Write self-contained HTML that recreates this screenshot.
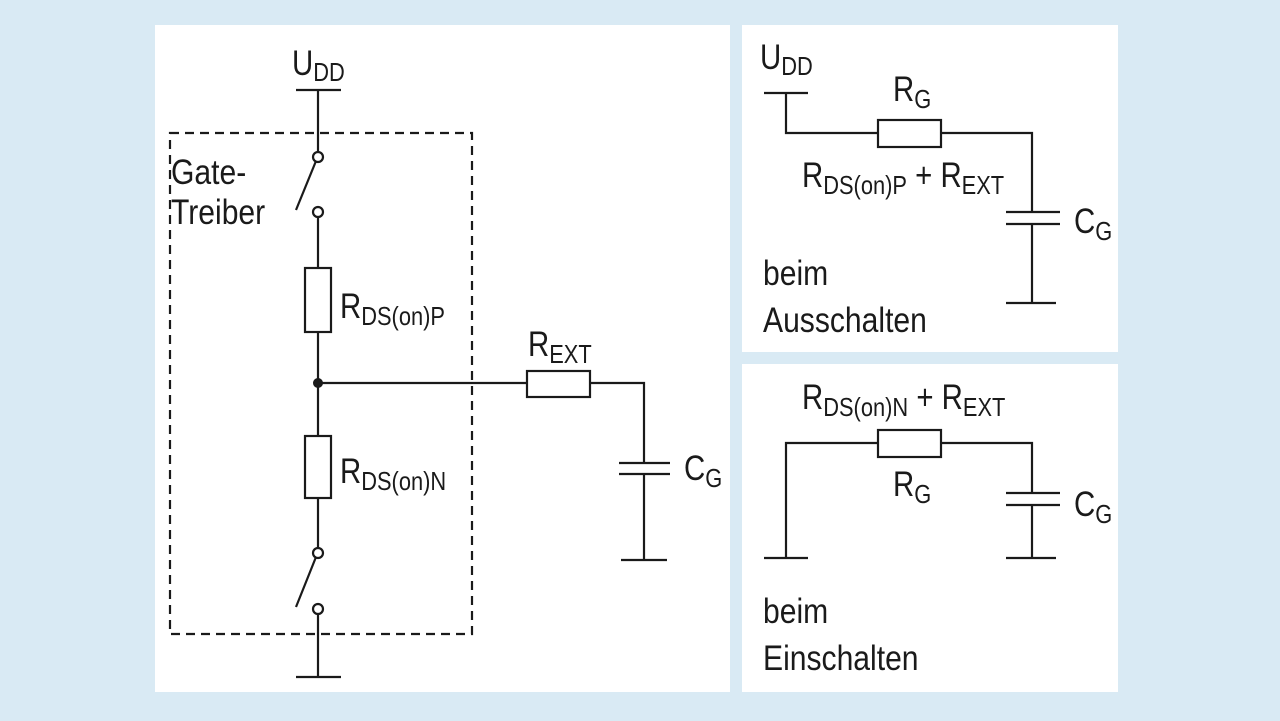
<!DOCTYPE html>
<html><head><style>
body{margin:0;width:1280px;height:721px;background:#d9eaf4;overflow:hidden}
svg{position:absolute;left:0;top:0}
text{font-family:"Liberation Sans",sans-serif;font-size:35px;fill:#1a1a1a}
.s{font-size:26px}
</style></head><body>
<svg width="1280" height="721" viewBox="0 0 1280 721">
<rect x="155" y="25" width="575" height="667" fill="#fff"/>
<rect x="742" y="25" width="376" height="327" fill="#fff"/>
<rect x="742" y="364" width="376" height="328" fill="#fff"/>
<g stroke="#1a1a1a" stroke-width="2.2" fill="none">
<rect x="170" y="133" width="302" height="501" stroke-dasharray="9,6"/>
<line x1="296" y1="90" x2="341" y2="90"/>
<line x1="318" y1="90" x2="318" y2="152"/>
<circle cx="318" cy="157" r="5" fill="#fff"/>
<line x1="296" y1="210" x2="316" y2="161"/>
<circle cx="318" cy="212" r="5" fill="#fff"/>
<line x1="318" y1="217" x2="318" y2="268"/>
<rect x="305" y="268" width="26" height="64"/>
<line x1="318" y1="332" x2="318" y2="436"/>
<rect x="305" y="436" width="26" height="62"/>
<line x1="318" y1="498" x2="318" y2="548"/>
<circle cx="318" cy="553" r="5" fill="#fff"/>
<line x1="296" y1="607" x2="316" y2="557"/>
<circle cx="318" cy="609" r="5" fill="#fff"/>
<line x1="318" y1="614" x2="318" y2="677"/>
<line x1="296" y1="677" x2="341" y2="677"/>
<line x1="318" y1="383" x2="527" y2="383"/>
<rect x="527" y="371" width="63" height="26"/>
<polyline points="590,383 644,383 644,463"/>
<line x1="619" y1="463" x2="670" y2="463"/>
<line x1="619" y1="474" x2="670" y2="474"/>
<line x1="644" y1="474" x2="644" y2="560"/>
<line x1="621" y1="560" x2="667" y2="560"/>

<line x1="764" y1="93" x2="808" y2="93"/>
<polyline points="786,93 786,133 878,133"/>
<rect x="878" y="120" width="63" height="27"/>
<polyline points="941,133 1032,133 1032,212"/>
<line x1="1006" y1="212" x2="1060" y2="212"/>
<line x1="1006" y1="224" x2="1060" y2="224"/>
<line x1="1032" y1="224" x2="1032" y2="303"/>
<line x1="1006" y1="303" x2="1056" y2="303"/>

<line x1="764" y1="558" x2="808" y2="558"/>
<polyline points="786,558 786,443 878,443"/>
<rect x="878" y="430" width="63" height="27"/>
<polyline points="941,443 1032,443 1032,493"/>
<line x1="1006" y1="493" x2="1060" y2="493"/>
<line x1="1006" y1="505" x2="1060" y2="505"/>
<line x1="1032" y1="505" x2="1032" y2="558"/>
<line x1="1006" y1="558" x2="1056" y2="558"/>
</g>
<circle cx="318" cy="383" r="5" fill="#1a1a1a"/>
<text transform="translate(292,75) scale(0.84,1)">U<tspan class="s" dy="6">DD</tspan></text>
<text transform="translate(171,184) scale(0.86,1)">Gate-</text>
<text transform="translate(171,224) scale(0.86,1)">Treiber</text>
<text transform="translate(340,318) scale(0.84,1)">R<tspan class="s" dy="7">DS(on)P</tspan></text>
<text transform="translate(340,483) scale(0.84,1)">R<tspan class="s" dy="7">DS(on)N</tspan></text>
<text transform="translate(528,356) scale(0.84,1)">R<tspan class="s" dy="7">EXT</tspan></text>
<text transform="translate(684,480) scale(0.84,1)">C<tspan class="s" dy="7">G</tspan></text>
<text transform="translate(760,69) scale(0.84,1)">U<tspan class="s" dy="6">DD</tspan></text>
<text transform="translate(893,101) scale(0.84,1)">R<tspan class="s" dy="7">G</tspan></text>
<text transform="translate(802,187) scale(0.84,1)">R<tspan class="s" dy="7">DS(on)P</tspan><tspan dy="-7"> + R</tspan><tspan class="s" dy="7">EXT</tspan></text>
<text transform="translate(1074,233) scale(0.84,1)">C<tspan class="s" dy="7">G</tspan></text>
<text transform="translate(763,285) scale(0.86,1)">beim</text>
<text transform="translate(763,332) scale(0.86,1)">Ausschalten</text>
<text transform="translate(802,409) scale(0.84,1)">R<tspan class="s" dy="7">DS(on)N</tspan><tspan dy="-7"> + R</tspan><tspan class="s" dy="7">EXT</tspan></text>
<text transform="translate(893,496) scale(0.84,1)">R<tspan class="s" dy="7">G</tspan></text>
<text transform="translate(1074,516) scale(0.84,1)">C<tspan class="s" dy="7">G</tspan></text>
<text transform="translate(763,623) scale(0.86,1)">beim</text>
<text transform="translate(763,670) scale(0.86,1)">Einschalten</text>
</svg>
</body></html>
